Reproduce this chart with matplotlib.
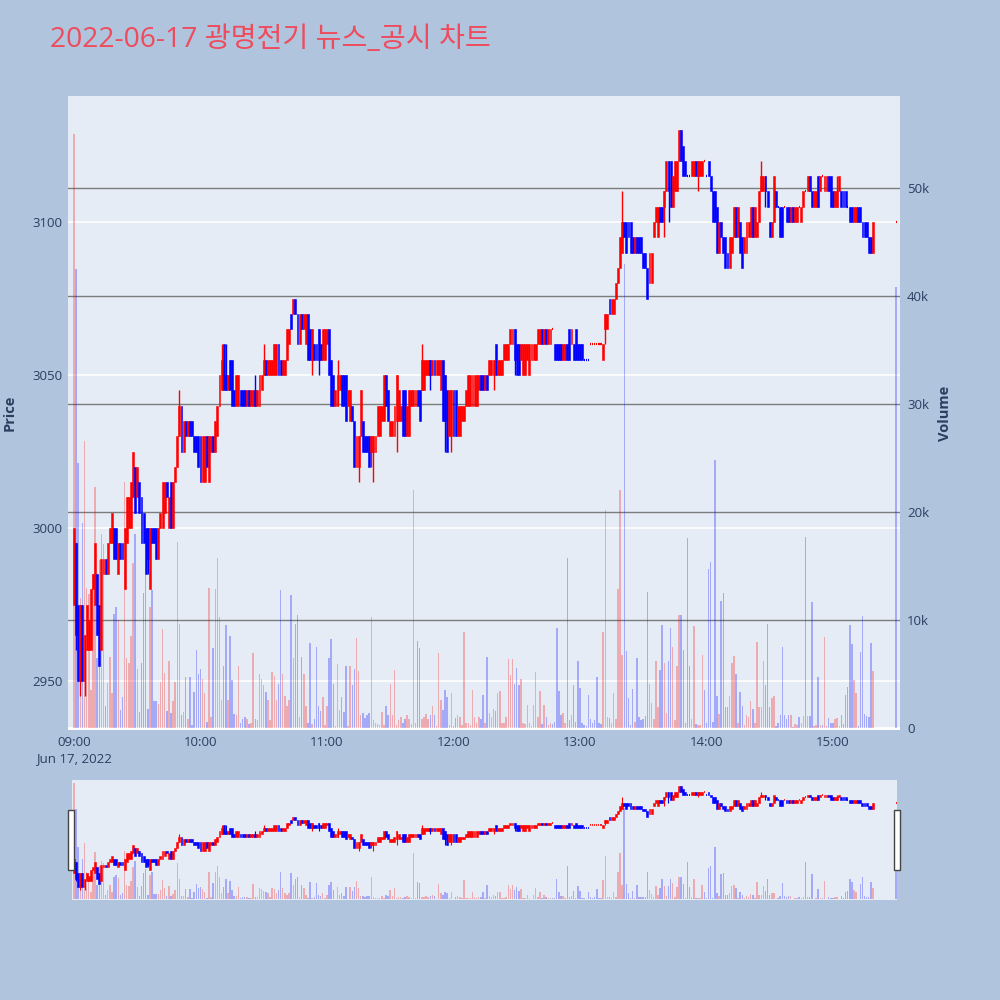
import matplotlib
matplotlib.use("Agg")
import matplotlib.pyplot as plt
from matplotlib.patches import Rectangle
from matplotlib.transforms import blended_transform_factory
import pandas as pd

TITLE = "2022-06-17 광명전기 뉴스_공시 차트"

# minute candles 09:00 .. 15:19, then closing auction 15:30
times = list(pd.date_range("2022-06-17 09:00", "2022-06-17 15:19", freq="min")) + [pd.Timestamp("2022-06-17 15:30")]

opens = [
 2975,2995,2975,2950,2975,2950,2960,2960,2960,2980, 2975,2985,2975,2960,2985,2990,2985,2995,2995,3000,
 3000,2985,2995,2995,2980,2995,3000,3000,3010,3020, 3010,3015,3010,3005,3000,3000,2980,3000,3000,3000,
 2990,3000,3000,3005,3015,3000,3015,3000,3015,3020, 3030,3040,3025,3035,3030,3035,3035,3030,3030,3030,
 3030,3015,3015,3030,3015,3025,3030,3025,3030,3040, 3045,3060,3050,3045,3055,3055,3045,3040,3040,3045,
 3045,3045,3040,3045,3040,3040,3045,3040,3040,3045, 3050,3055,3050,3050,3050,3050,3050,3060,3055,3050,
 3050,3055,3060,3070,3070,3075,3070,3060,3070,3065, 3060,3070,3065,3055,3060,3060,3065,3060,3055,3055,
 3060,3065,3055,3050,3040,3040,3045,3050,3050,3050, 3040,3035,3040,3035,3020,3020,3030,3035,3030,3030,
 3030,3025,3025,3025,3030,3030,3035,3035,3050,3045, 3030,3030,3030,3035,3035,3035,3045,3045,3030,3030,
 3040,3040,3040,3045,3045,3045,3045,3050,3050,3055, 3050,3055,3050,3050,3045,3055,3050,3045,3030,3030,
 3045,3045,3030,3030,3035,3035,3040,3040,3040,3040, 3040,3040,3045,3050,3050,3045,3050,3050,3050,3050,
 3060,3050,3050,3050,3055,3055,3055,3060,3060,3065, 3060,3060,3055,3050,3050,3055,3050,3055,3055,3055,
 3060,3060,3065,3060,3065,3060,3060,3065,3060,3060, 3060,3060,3055,3055,3060,3065,3060,3060,3065,3060,
 3060,3060,3055,3055,3055,3060,3060,3060,3060,3060, 3060,3055,3065,3065,3075,3070,3070,3075,3080,3085,
 3090,3100,3100,3100,3100,3095,3090,3095,3095,3095, 3090,3090,3085,3080,3080,3095,3100,3095,3105,3105,
 3105,3110,3120,3120,3105,3110,3110,3120,3130,3125, 3120,3115,3115,3115,3115,3120,3115,3115,3115,3120,
 3115,3120,3115,3110,3110,3105,3090,3100,3095,3095, 3090,3085,3090,3095,3105,3095,3100,3095,3090,3090,
 3095,3095,3105,3095,3095,3100,3110,3110,3115,3110, 3100,3095,3100,3110,3105,3105,3105,3105,3105,3105,
 3100,3105,3100,3100,3105,3100,3105,3110,3110,3115, 3110,3105,3105,3115,3110,3115,3110,3110,3115,3115,
 3110,3105,3105,3110,3110,3110,3110,3105,3105,3105, 3100,3100,3105,3105,3100,3100,3100,3095,3095,3090,
 3100]

closes = [
 3000,2965,2950,2975,2950,2965,2975,2970,2980,2985, 2995,2965,2955,2990,2990,2985,2995,3000,3005,2990,
 2990,2995,2990,2990,3000,3010,3010,3015,3025,3005, 3020,3005,2995,2995,2985,2990,3000,2995,2995,2990,
 3000,3005,3015,3015,3010,3010,3000,3015,3020,3030, 3040,3025,3035,3030,3035,3030,3030,3025,3025,3020,
 3015,3030,3030,3020,3030,3030,3025,3035,3040,3050, 3055,3045,3045,3050,3045,3040,3040,3050,3050,3040,
 3040,3040,3045,3040,3045,3045,3040,3045,3050,3050, 3055,3050,3055,3055,3055,3060,3060,3050,3050,3055,
 3055,3065,3065,3065,3075,3070,3060,3070,3065,3070, 3070,3055,3055,3065,3055,3055,3055,3055,3065,3065,
 3065,3050,3040,3040,3045,3050,3050,3040,3040,3035, 3045,3045,3035,3020,3030,3030,3045,3025,3025,3025,
 3020,3030,3030,3030,3040,3040,3040,3050,3040,3035, 3035,3035,3040,3050,3045,3040,3030,3030,3040,3045,
 3045,3045,3045,3040,3035,3055,3055,3055,3055,3050, 3055,3050,3055,3055,3055,3035,3035,3025,3045,3045,
 3030,3030,3040,3040,3040,3040,3045,3050,3050,3050, 3050,3050,3050,3045,3045,3050,3045,3055,3055,3055,
 3050,3055,3055,3055,3060,3060,3060,3065,3065,3055, 3050,3050,3060,3060,3060,3060,3060,3060,3060,3060,
 3065,3065,3060,3065,3060,3065,3065,3065,3055,3055, 3055,3055,3060,3060,3055,3055,3065,3055,3055,3055,
 3055,3055,3055,3055,3055,3060,3060,3060,3060,3060, 3060,3060,3070,3070,3070,3075,3075,3080,3085,3095,
 3100,3095,3090,3095,3090,3090,3095,3090,3090,3090, 3085,3085,3075,3090,3090,3100,3105,3105,3100,3100,
 3110,3120,3110,3105,3115,3120,3120,3130,3120,3115, 3115,3115,3115,3120,3120,3115,3120,3120,3120,3120,
 3115,3115,3110,3100,3100,3090,3100,3095,3090,3085, 3085,3095,3095,3105,3095,3105,3090,3085,3095,3100,
 3100,3105,3095,3105,3100,3110,3115,3115,3110,3105, 3095,3100,3115,3105,3105,3095,3095,3105,3100,3100,
 3105,3100,3105,3105,3105,3105,3110,3110,3115,3110, 3105,3110,3110,3105,3115,3115,3115,3115,3110,3105,
 3105,3110,3110,3115,3105,3105,3105,3105,3100,3100, 3105,3105,3100,3100,3095,3095,3095,3090,3090,3100,
 3100]

# wick extremes beyond the candle body (index -> price)
wick_high = {50: 3045, 70: 3060, 72: 3060, 86: 3050, 90: 3060, 125: 3055, 165: 3060,
             260: 3110, 326: 3120, 362: 3115}
wick_low = {1: 2960, 3: 2945, 5: 2945, 35: 2985, 113: 3050, 116: 3050, 135: 3015, 141: 3020,
            142: 3015, 153: 3025, 169: 3045, 176: 3025, 179: 3025, 199: 3045, 209: 3050,
            252: 3060, 280: 3095, 282: 3100, 296: 3110, 328: 3105}

# volume in thousands of shares
volume_k = [
 55,42.5,24.5,12,19,26.6,13,12.4,3.5,14.3, 22.3,6.5,15.6,18,17,2,4.2,6.6,3.2,10.6,
 11.2,10,1.7,2.9,22.8,6.5,6,8.5,15.3,18, 5.5,1.5,6,12.5,14.2,1.8,11.2,12.8,2.5,2.5,
 2.2,4.3,9.2,5.1,1.6,6.2,1.4,2.5,4.3,17.2, 9.6,1.2,1.5,4.7,0.8,4.7,0.3,3.3,7.2,5,
 5.5,4.5,3.2,0.6,13,1,7.4,12.9,15.7,10.3, 2.6,5.7,9.5,2.6,8.5,4.4,1.3,1.2,5.7,0.5,
 0.8,1,0.8,0.4,0.5,6.9,0.8,0.7,5,4.5, 4,3.3,2.6,0.7,5.2,4.8,2.6,4.1,12.8,5,
 3,2,2.6,12.3,6.5,9.6,10.5,1,6.6,5, 2,0.5,7.9,0.4,0.8,7.5,2,1.6,2.9,0.3,
 2,6.5,8.2,4.1,0.2,5.9,1.7,2.9,1.5,5.7, 0.2,5.7,4,5.5,8.3,5.3,1.2,1.4,0.9,1.2,
 1.4,10.3,0.7,0.5,0.4,0.3,1.5,0.3,2,1.2, 4.1,1.2,5.4,0.3,0.7,1,0.5,0.8,1.2,0.8,
 0.4,22,0.5,8.1,7.4,0.8,1,1.3,0.8,1.2, 2,1.2,0.2,6.9,2.6,1.7,3.5,2.9,0.3,3.2,
 0.2,0.9,1.2,1,0.3,8.9,0.5,0.5,0.3,3.5, 1,0.5,1,0.8,3.1,0.5,6.6,1.4,1,1.8,
 1.6,3.2,3.4,0.5,0.5,1,6.4,4.9,6.4,4.1, 5.6,4,4.5,0.5,0.4,2.1,0.5,0.2,2.1,5.2,
 1,3.4,0.4,2.1,1,0.3,0.5,0.4,0.6,9.3, 3.4,1.2,1.4,0.5,15.7,0.7,1.2,4,0.6,6.2,
 3.7,0.5,0.3,0.2,3.1,0.8,0.5,0.7,4.7,0.5, 0.4,8.9,20.2,1,0.9,0.5,3.2,0.8,12.9,22,
 6.8,43,7.1,2.8,0.3,3.6,0.6,6.5,1,0.7, 0.8,1.1,12.6,4.1,2.3,0.8,6.2,1.9,5.4,9.5,
 6,1.4,6.2,9.3,7.5,0.7,5.7,10.5,10.5,7.2, 0.5,17.6,5.7,0.8,9.4,0.4,0.3,0.3,6.8,3.5,
 0.5,14.7,15.4,0.6,24.8,3,1.3,11.8,12.5,1.9, 1.9,3,6,6.7,5,0.5,3.3,2,0.3,1.2,
 1,2.5,1.8,0.5,8,1.9,1.9,6.2,4,9.6, 1.9,2.8,3,0.2,0.5,1.2,7.5,1.2,0.8,1.2,
 1.2,0.1,0.4,0.3,1,0.5,1.1,17.7,1.1,1.1, 11.7,0.2,0.3,4.7,0.3,0.3,8.4,0.2,0.9,0.5,
 0.5,0.8,0.9,0.2,1.2,0.4,3.1,3.8,9.5,7.8, 4.4,3.2,0.2,7,10.4,1.3,1.1,1,7.9,5.3,
 40.8]

price_ticks = [2950, 3000, 3050, 3100]
volume_ticks = [0, 10000, 20000, 30000, 40000, 50000]
volume_tick_labels = ["0", "10k", "20k", "30k", "40k", "50k"]
hour_ticks = ["09:00", "10:00", "11:00", "12:00", "13:00", "14:00", "15:00"]

RED = "#FF0000"
BLUE = "#0000FF"
TXT = "#2a3f5f"
FONT = ["Open Sans", "Noto Sans CJK KR", "DejaVu Sans"]
plt.rcParams["font.family"] = FONT

start = pd.Timestamp("2022-06-17 09:00")
xs = [(t - start).total_seconds() / 60.0 for t in times]
vols = [v * 1000 for v in volume_k]

# candle direction (plotly style: ties use previous close / previous direction)
inc = []
prev_c, prev_d = None, True
for o, c in zip(opens, closes):
    if c > o:
        d = True
    elif c < o:
        d = False
    elif prev_c is not None and c > prev_c:
        d = True
    elif prev_c is not None and c < prev_c:
        d = False
    else:
        d = prev_d
    inc.append(d)
    prev_c, prev_d = c, d
vcol = [RED if c > o else BLUE for o, c in zip(opens, closes)]


def draw(axp, axv, body_w, vol_w, doji_w, doji_lw, wick_lw):
    axv.bar(xs, vols, width=vol_w, color=vcol, alpha=0.28, linewidth=0, zorder=2)
    for i, x in enumerate(xs):
        o, c = opens[i], closes[i]
        col = RED if inc[i] else BLUE
        hi = wick_high.get(i, max(o, c))
        lo = wick_low.get(i, min(o, c))
        if hi > max(o, c) or lo < min(o, c):
            axp.vlines(x, lo, hi, color=col, lw=wick_lw, zorder=3)
        if o == c:
            axp.hlines(c, x - doji_w / 2, x + doji_w / 2, color=col, lw=doji_lw, zorder=4)
        else:
            axp.bar(x, abs(c - o), bottom=min(o, c), width=body_w, color=col,
                    edgecolor=col, linewidth=0.4, zorder=4)


fig = plt.figure(figsize=(10, 10), dpi=100)
fig.patch.set_facecolor("#B0C4DE")

# ---------------- main panel ----------------
ax = fig.add_axes([0.068, 0.270, 0.832, 0.634])
ax.set_facecolor("#E5ECF6")
axp = ax.twinx()
axp.patch.set_visible(False)

ax.set_xlim(-2.85, 391.8)
ax.set_ylim(-185, 58520)
axp.set_ylim(2934, 3141.2)

# grid lines
btf = blended_transform_factory(ax.transAxes, axp.transData)
for p in price_ticks:
    ax.plot([0, 1], [p, p], transform=btf, color="white", lw=1.2, zorder=0.5)
for v in volume_ticks[1:]:
    ax.axhline(v, color="#7c7c7c", lw=1, zorder=0.6)
ax.axhline(0, color="white", lw=2, zorder=0.7)

draw(axp, ax, body_w=0.9, vol_w=0.7, doji_w=0.55, doji_lw=1.6, wick_lw=1.0)

for a in (ax, axp):
    for s in a.spines.values():
        s.set_visible(False)

ax.set_xticks([60 * i for i in range(len(hour_ticks))])
ax.set_xticklabels([hour_ticks[0] + "\nJun 17, 2022"] + hour_ticks[1:], linespacing=1.35)
ax.tick_params(axis="x", length=0, pad=4, labelsize=9.5, labelcolor=TXT)

ax.yaxis.tick_right()
ax.set_yticks(volume_ticks)
ax.set_yticklabels(volume_tick_labels)
ax.tick_params(axis="y", length=0, pad=5, labelsize=9.5, labelcolor=TXT)

axp.yaxis.tick_left()
axp.set_yticks(price_ticks)
axp.set_yticklabels([str(p) for p in price_ticks])
axp.tick_params(axis="y", length=0, pad=4, labelsize=9.5, labelcolor=TXT)

fig.text(0.010, 0.587, "Price", rotation=90, ha="center", va="center",
         fontsize=10.5, fontweight="bold", color=TXT)
fig.text(0.945, 0.587, "Volume", rotation=90, ha="center", va="center",
         fontsize=10.5, fontweight="bold", color=TXT)

fig.text(0.050, 0.960, TITLE, ha="left", va="center", fontsize=20.3, color="#EE4C5C")

# ---------------- range slider ----------------
axs = fig.add_axes([0.072, 0.100, 0.825, 0.120])
axs.set_facecolor("#E5ECF6")
axsp = axs.twinx()
axsp.patch.set_visible(False)
axs.set_xlim(-0.95, 390.4)
axs.set_ylim(-500, 56400)
axsp.set_ylim(2927, 3141)
draw(axsp, axs, body_w=0.9, vol_w=0.7, doji_w=0.55, doji_lw=1.2, wick_lw=0.8)
for a in (axs, axsp):
    a.set_xticks([])
    a.set_yticks([])
    for s in a.spines.values():
        s.set_visible(False)

for xl in (0.068, 0.894):
    fig.patches.append(Rectangle((xl, 0.130), 0.0055, 0.060, transform=fig.transFigure,
                                 facecolor="white", edgecolor="#444444", lw=1, zorder=10))

fig.savefig("out.png", dpi=100, facecolor=fig.get_facecolor())
